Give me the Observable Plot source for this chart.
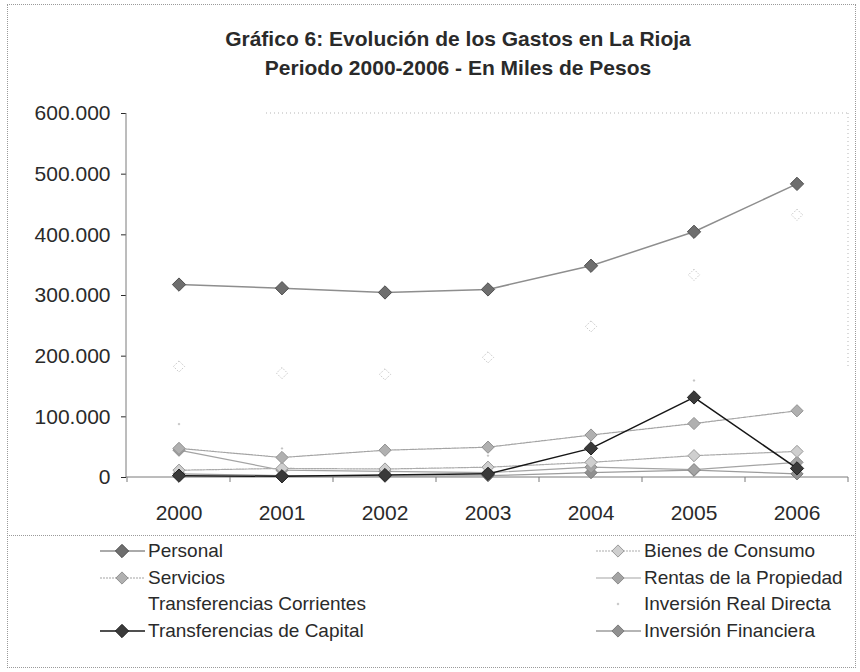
<!DOCTYPE html>
<html><head><meta charset="utf-8">
<script src="https://cdn.jsdelivr.net/npm/d3@7"></script>
<script src="https://cdn.jsdelivr.net/npm/@observablehq/plot@0.6"></script>
<style>
body{margin:0;background:#fff;font-family:"Liberation Sans",Arial,sans-serif;color:#2a2a2a;}
#wrap{position:relative;width:860px;height:672px;overflow:hidden;}
#border{position:absolute;left:7px;top:4px;width:849px;height:664px;border:1px dotted #9a9a9a;box-sizing:border-box;}
#sep{position:absolute;left:7px;top:535px;width:849px;border-top:1px dotted #9a9a9a;}
.t{position:absolute;left:8px;width:900px;text-align:center;font-weight:bold;font-size:21px;color:#2a2a2a;}
#chart{position:absolute;left:0;top:0;}
.lg{position:absolute;font-size:19px;color:#2a2a2a;white-space:nowrap;line-height:22px;}
.lg svg{position:absolute;}
</style>
</head><body>
<div id="wrap">
  <div id="border"></div>
  <div class="t" style="top:27px">Gráfico 6: Evolución de los Gastos en La Rioja</div>
  <div class="t" style="top:56px">Periodo 2000-2006 - En Miles de Pesos</div>
  <div id="chart"></div>
  <div id="sep"></div>
  <div id="legend"></div>
</div>
<script>
const years = ["2000","2001","2002","2003","2004","2005","2006"];
const personal       = [318000, 312000, 305000, 310000, 349000, 405000, 484000];
const bienesConsumo  = [12000, 15000, 14000, 17000, 25000, 36000, 43000];
const servicios      = [48000, 33000, 45000, 50000, 70000, 89000, 110000];
const rentasProp     = [45000, 12000, 10000, 8000, 17000, 13000, 25000];
const transfCorr     = [183000, 172000, 170000, 198000, 249000, 334000, 433000];
const invRealDirecta = [88000, 48000, 20000, 36000, 72000, 160000, 12000];
const transfCapital  = [3000, 2000, 4000, 6000, 48000, 132000, 15000];
const invFinanciera  = [6000, 3000, 2000, 3000, 8000, 12000, 6000];
const yTicks = [0, 100000, 200000, 300000, 400000, 500000, 600000];
const seriesNames = ["Personal","Bienes de Consumo","Servicios","Rentas de la Propiedad","Transferencias Corrientes","Inversión Real Directa","Transferencias de Capital","Inversión Financiera"];

const seriesValues = [personal, bienesConsumo, servicios, rentasProp, transfCorr, invRealDirecta, transfCapital, invFinanciera];
const styles = {
  "Personal":                 {line:"#8e8e8e", lw:1.5, fill:"#6e6e6e", stroke:"#505050", r:6, dash:null},
  "Bienes de Consumo":        {line:"#ababab", lw:1.2, fill:"#cfcfcf", stroke:"#9a9a9a", r:5.5, dash:"2,1"},
  "Servicios":                {line:"#a4a4a4", lw:1.2, fill:"#b0b0b0", stroke:"#909090", r:5.5, dash:"2,1"},
  "Rentas de la Propiedad":   {line:"#a4a4a4", lw:1.2, fill:"#a4a4a4", stroke:"#8c8c8c", r:5.5, dash:null},
  "Transferencias Corrientes":{line:null, lw:0, fill:"none", stroke:"#b8b8b8", r:5, dash:"1,1.5"},
  "Inversión Real Directa":   {line:null, lw:0, fill:"#c4c4c4", stroke:"none", r:1.3, dash:null},
  "Transferencias de Capital":{line:"#161616", lw:1.5, fill:"#3a3a3a", stroke:"#222", r:6, dash:null},
  "Inversión Financiera":     {line:"#9c9c9c", lw:1.3, fill:"#909090", stroke:"#7a7a7a", r:5.5, dash:null}
};
const table = [];
seriesNames.forEach((s, k) => years.forEach((yr, i) => table.push({series: s, year: yr, value: seriesValues[k][i]})));

const W = 860, H = 533, ML = 126, MR = 12, MT = 113, MB = 56;
const fmt = d => d === 0 ? "0" : d3.format(",")(d).replace(/,/g, ".");

const drawOrder = ["Transferencias Corrientes","Inversión Real Directa","Inversión Financiera","Rentas de la Propiedad","Bienes de Consumo","Servicios","Transferencias de Capital","Personal"];
const marks = [];
marks.push((index, scales, values, dim) => {
  const g = d3.create("svg:g").attr("stroke", "#b5b5b5").attr("stroke-dasharray", "1,3").attr("fill","none");
  g.append("line").attr("x1", dim.marginLeft + 140).attr("x2", dim.width - dim.marginRight).attr("y1", dim.marginTop).attr("y2", dim.marginTop);
  g.append("line").attr("x1", dim.width - dim.marginRight).attr("x2", dim.width - dim.marginRight).attr("y1", dim.marginTop).attr("y2", dim.height - dim.marginBottom - 110);
  return g.node();
});
marks.push((index, scales, values, dim) => {
  const g = d3.create("svg:g").attr("stroke", "#7a7a7a").attr("fill","none");
  const y0 = dim.height - dim.marginBottom;
  g.append("line").attr("x1", dim.marginLeft).attr("x2", dim.marginLeft).attr("y1", dim.marginTop).attr("y2", y0);
  g.append("line").attr("x1", dim.marginLeft).attr("x2", dim.width - dim.marginRight).attr("y1", y0).attr("y2", y0);
  years.forEach(yr => { const x = scales.x(yr); g.append("line").attr("x1", x).attr("x2", x).attr("y1", y0).attr("y2", y0 + 5); });
  const xe = scales.x(years[years.length-1]) + scales.x.bandwidth();
  g.append("line").attr("x1", xe).attr("x2", xe).attr("y1", y0).attr("y2", y0 + 5);
  return g.node();
});
for (const s of drawOrder) {
  const st = styles[s];
  const data = table.filter(d => d.series === s);
  if (st.line) marks.push(Plot.line(data, {x: "year", y: "value", stroke: st.line, strokeWidth: st.lw, strokeDasharray: st.dash || undefined}));
  marks.push(Plot.dot(data, {x: "year", y: "value", symbol: d3.symbolDiamond2, r: st.r, fill: st.fill, stroke: st.stroke, strokeWidth: 1, strokeDasharray: s === "Transferencias Corrientes" ? st.dash : undefined}));
}

const chart = Plot.plot({
  width: W, height: H,
  marginLeft: ML, marginRight: MR, marginTop: MT, marginBottom: MB,
  style: {fontSize: "21px", fontFamily: "'Liberation Sans', Arial, sans-serif", color: "#2a2a2a", background: "transparent", overflow: "visible"},
  x: {type: "band", domain: years, padding: 0, label: null, tickSize: 0, tickPadding: 28},
  y: {domain: [0, 600000], ticks: yTicks, tickFormat: fmt, tickSize: 5, tickPadding: 11, label: null},
  marks
});
document.getElementById("chart").appendChild(chart);

const legendPos = [
  ["Personal", 100, 551], ["Bienes de Consumo", 596, 551],
  ["Servicios", 100, 578], ["Rentas de la Propiedad", 596, 578],
  ["Transferencias Corrientes", 100, 604], ["Inversión Real Directa", 596, 604],
  ["Transferencias de Capital", 100, 631], ["Inversión Financiera", 596, 631]
];
const leg = d3.select("#legend");
for (const [name, x, y] of legendPos) {
  const st = styles[name];
  const item = leg.append("div").attr("class", "lg").style("left", (x + 48) + "px").style("top", (y - 11) + "px").text(name);
  const svg = item.append("svg").attr("width", 46).attr("height", 22).style("left", "-48px").style("top", "0px");
  if (st.line) svg.append("line").attr("x1", 0).attr("x2", 45).attr("y1", 11).attr("y2", 11).attr("stroke", st.line).attr("stroke-width", st.lw).attr("stroke-dasharray", st.dash);
  const size = Math.PI * st.r * st.r;
  svg.append("path").attr("transform", "translate(22,11)").attr("d", d3.symbol(d3.symbolDiamond2, size)()).attr("fill", st.fill).attr("stroke", st.stroke)
     .attr("opacity", name === "Transferencias Corrientes" ? 0 : 1);
}
</script>
</body></html>
